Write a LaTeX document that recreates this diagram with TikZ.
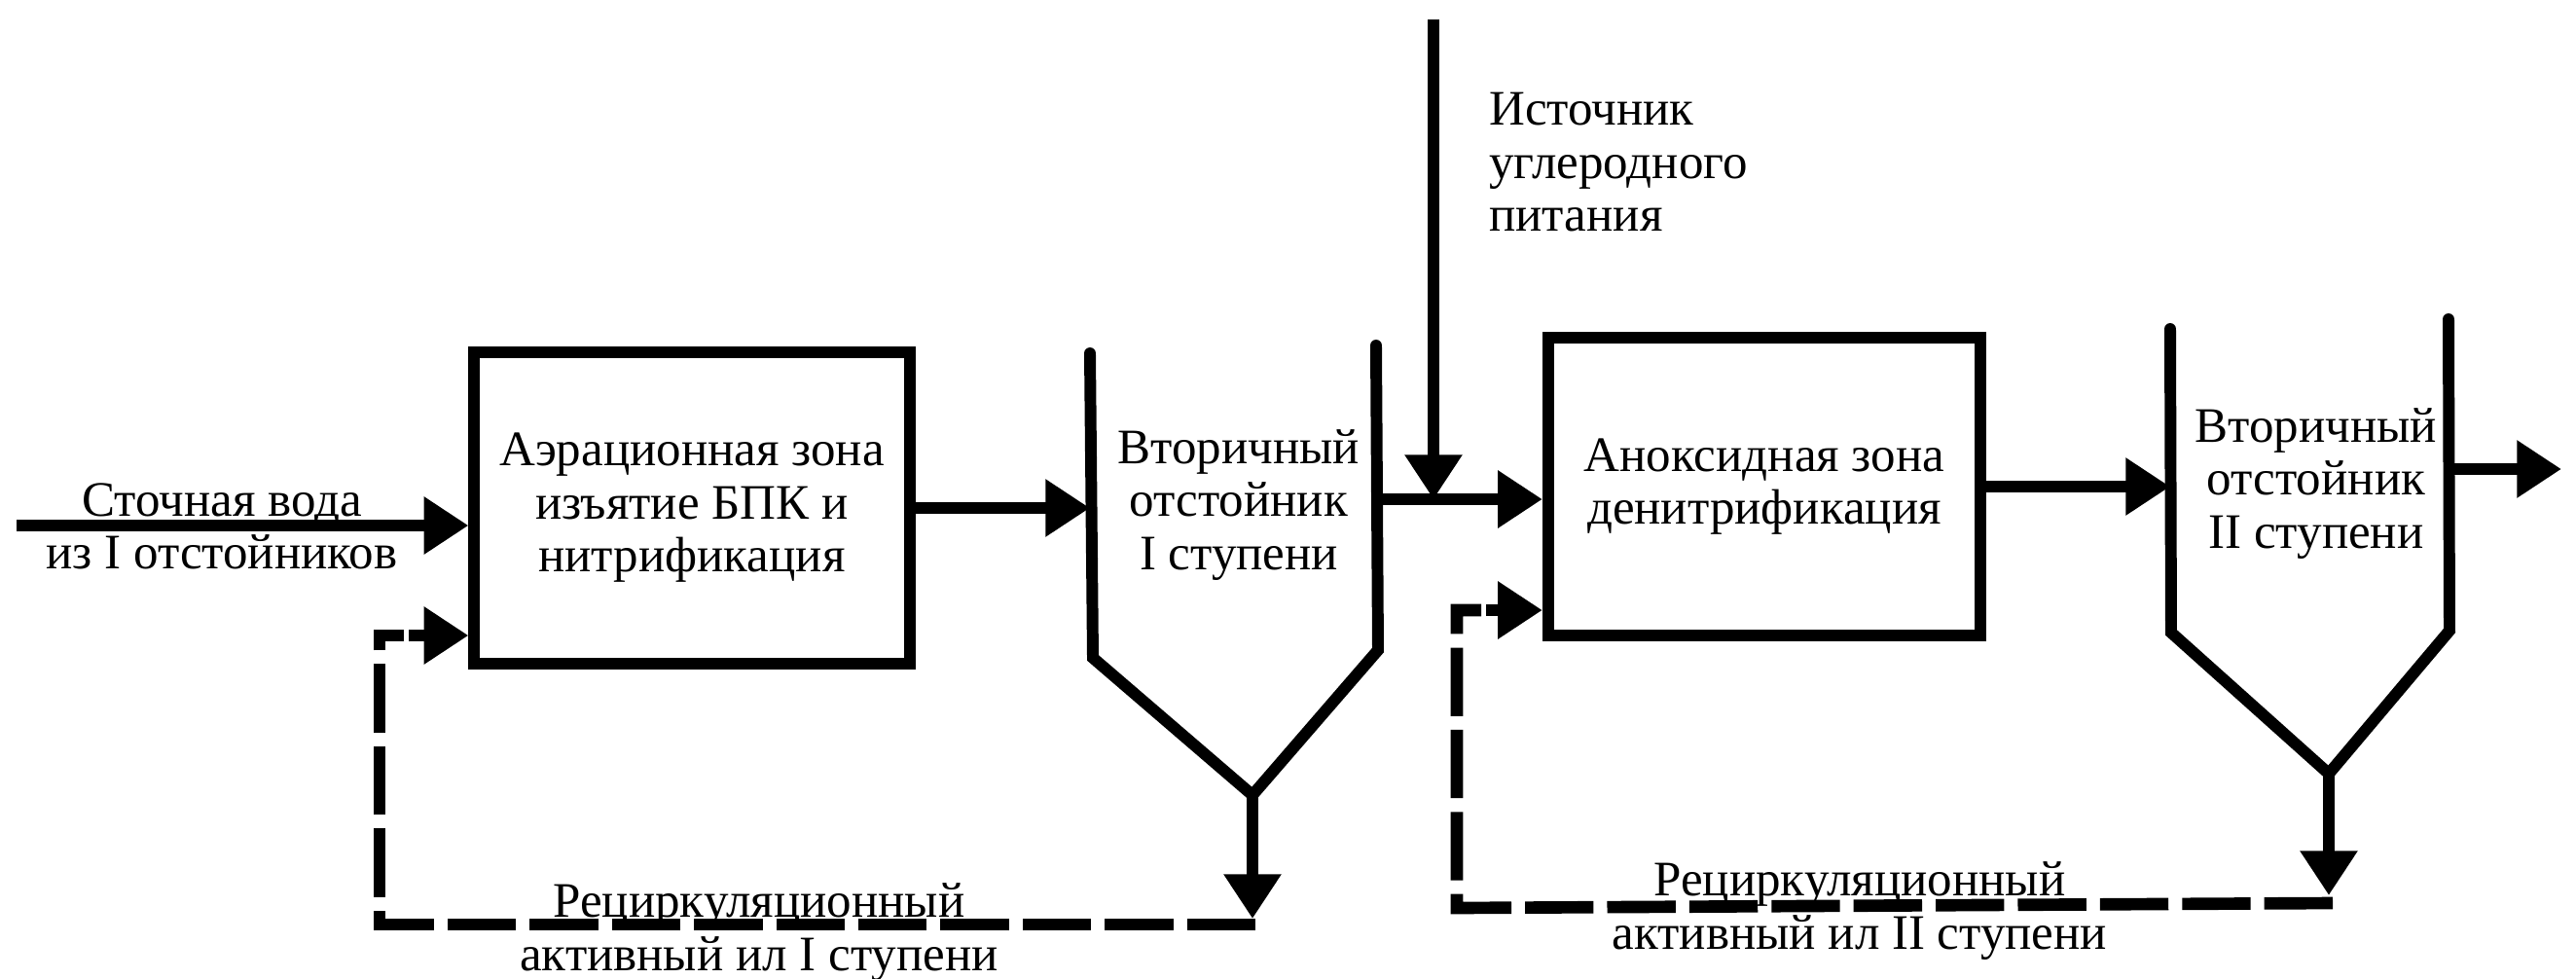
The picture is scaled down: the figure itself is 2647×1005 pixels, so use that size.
\documentclass[tikz,border=0pt]{standalone}
\usepackage{fontspec}
\setmainfont{Liberation Serif}
\usepackage{tikz}
\usetikzlibrary{positioning,arrows.meta,calc}

\begin{document}
\begin{tikzpicture}[x=0.01cm,y=-0.01cm,
  font=\fontsize{14.5}{15.5}\selectfont,
  flow/.style={line width=3.4pt,-{Triangle[length=13pt,width=16pt]}},
  recirc/.style={line width=3.6pt,dash pattern=on 20pt off 4pt},
  wall/.style={line width=3.4pt,line join=miter,line cap=round},
  zone/.style={rectangle,draw,line width=3.4pt,align=center,inner sep=0pt}]
\useasboundingbox (0,0) rectangle (2647,1005);

% zones
\node[zone,minimum width=4.47cm,minimum height=3.2cm] (aerzone) at (711,522)
  {Аэрационная зона\\изъятие БПК и\\нитрификация};
\node[zone,minimum width=4.44cm,minimum height=3.06cm] (anoxzone) at (1813,500)
  {Аноксидная зона\\денитрификация};

% secondary settlers
\coordinate (s1lt) at (1120,363);
\coordinate (s1lb) at (1123,676);
\coordinate (s1ap) at (1287,817);
\coordinate (s1rb) at (1416,668);
\coordinate (s1rt) at (1414,355);
\draw[wall] (s1lt) -- (s1lb) -- (s1ap) -- (s1rb) -- (s1rt);
\node[align=center] (s1txt) at (1273,519) {Вторичный\\отстойник\\I ступени};

\coordinate (s2lt) at (2230,338);
\coordinate (s2lb) at (2231,650);
\coordinate (s2ap) at (2393,795);
\coordinate (s2rb) at (2517,648);
\coordinate (s2rt) at (2516,328);
\draw[wall] (s2lt) -- (s2lb) -- (s2ap) -- (s2rb) -- (s2rt);
\node[align=center] (s2txt) at (2380,497) {Вторичный\\отстойник\\II ступени};

% main flow
\coordinate (inlet) at (17,540);
\draw[flow] (inlet) -- (inlet -| aerzone.west);
\node[align=center] (inlettxt) at (228,541) {Сточная вода\\из I отстойников};
\draw[flow] (aerzone.east) -- (aerzone.east -| s1lt);
\coordinate (j1) at (1414,513);
\draw[flow] (j1) -- (j1 -| anoxzone.west);
\coordinate (csrc) at (1473,20);
\draw[flow] (csrc) -- (csrc |- j1);
\node[align=left,anchor=west] (csrctxt) at (1518,167) {Источник\\углеродного\\питания};
\draw[flow] (anoxzone.east) -- (anoxzone.east -| s2lt);
\coordinate (outlet) at (2632,482);
\draw[flow] (outlet -| s2rt) -- (outlet);

% recirculation I
\coordinate (rc1a) at (1290,950);
\coordinate (rc1b) at (390,950);
\coordinate (rc1c) at (390,653);
\draw[flow] (s1ap) -- (s1ap |- 0,944);
\draw[recirc] (rc1a) -- (rc1b) -- (rc1c) -- ++(25,0);
\draw[flow] ($(rc1c)+(30,0)$) -- (rc1c -| aerzone.west);
\node[align=center] (rc1txt) at (780,958) {Рециркуляционный\\активный ил I ступени};

% recirculation II
\coordinate (rc2a) at (2397,928);
\coordinate (rc2b) at (1497,933);
\coordinate (rc2c) at (1497,627);
\draw[flow] (s2ap) -- (s2ap |- 0,920);
\draw[recirc] (rc2a) -- (rc2b) -- (rc2c) -- ++(25,0);
\draw[flow] ($(rc2c)+(30,0)$) -- (rc2c -| anoxzone.west);
\node[align=center] (rc2txt) at (1911,936) {Рециркуляционный\\активный ил II ступени};
\end{tikzpicture}
\end{document}
